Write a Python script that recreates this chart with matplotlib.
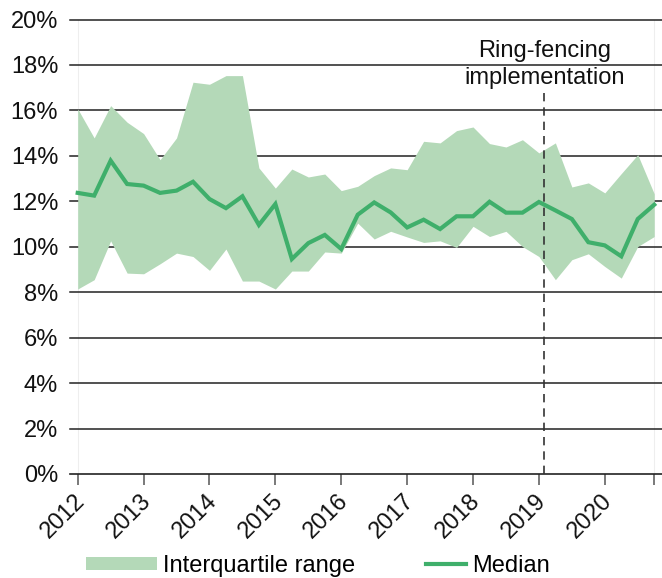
import matplotlib
matplotlib.use("Agg")
import matplotlib.pyplot as plt
import matplotlib.transforms as mtransforms
from matplotlib.patches import Patch
from matplotlib.lines import Line2D
import pandas as pd

# = = = = = = = = = = = = = = = = = = = = = = #
#                    Data                     #
# = = = = = = = = = = = = = = = = = = = = = = #

# Quarterly observations, 2012Q1 to 2020Q4
quarters = pd.period_range("2012Q1", "2020Q4", freq="Q")

# Upper quartile (%)
upper_q = [16.07, 14.79, 16.21, 15.48,
           14.98, 13.83, 14.79, 17.24,
           17.15, 17.53, 17.53, 13.47,
           12.58, 13.42, 13.07, 13.20,
           12.47, 12.66, 13.13, 13.47,
           13.39, 14.64, 14.57, 15.11,
           15.27, 14.54, 14.39, 14.71,
           14.13, 14.57, 12.63, 12.81,
           12.37, 13.22, 14.05, 12.33]

# Median (%)
median = [12.37, 12.25, 13.79, 12.76,
          12.69, 12.37, 12.47, 12.86,
          12.10, 11.70, 12.22, 10.96,
          11.88, 9.46, 10.16, 10.52,
          9.90, 11.41, 11.95, 11.51,
          10.85, 11.19, 10.78, 11.34,
          11.34, 11.98, 11.50, 11.50,
          11.97, 11.60, 11.22, 10.20,
          10.06, 9.58, 11.22, 11.85]

# Lower quartile (%)
lower_q = [8.14, 8.55, 10.26, 8.84,
           8.81, 9.25, 9.72, 9.57,
           8.96, 9.90, 8.49, 8.49,
           8.14, 8.93, 8.93, 9.77,
           9.72, 11.04, 10.34, 10.68,
           10.43, 10.19, 10.26, 9.97,
           10.90, 10.45, 10.68, 10.01,
           9.57, 8.55, 9.43, 9.69,
           9.13, 8.62, 10.01, 10.45]

# Ring-fencing implementation date (decimal year)
ring_fence_x = 2019.08
ring_fence_label = "Ring-fencing\nimplementation"

years = [2012, 2013, 2014, 2015, 2016, 2017, 2018, 2019, 2020]
y_ticks = [0, 2, 4, 6, 8, 10, 12, 14, 16, 18, 20]

x = [q.year + (q.quarter - 1) / 4 for q in quarters]

# = = = = = = = = = = = = = = = = = = = = = = #
#                   Plotting                  #
# = = = = = = = = = = = = = = = = = = = = = = #
plt.rcParams["font.family"] = ["Liberation Sans", "DejaVu Sans"]
fill_color = "#b4d9b8"
line_color = "#3faf6b"
dark = "#222222"

fig = plt.figure(figsize=(6.62, 5.78), dpi=100)
ax = fig.add_axes([70 / 662, 104 / 578, 592 / 662, 454.5 / 578])

# Horizontal gridlines behind the band
for yt in y_ticks[1:]:
    ax.axhline(yt, color=dark, lw=1.1, zorder=1, clip_on=False)

# faint edge markers at the ends of the data
ax.axvline(x[0], color="#eeeeee", lw=0.8, zorder=0.5)
ax.axvline(x[-1], color="#eeeeee", lw=0.8, zorder=0.5)

ax.fill_between(x, lower_q, upper_q, color=fill_color, lw=0, zorder=2)
ax.plot(x, median, color=line_color, lw=3.0, zorder=4, solid_joinstyle="miter")

# Ring-fencing marker
ax.plot([ring_fence_x, ring_fence_x], [0, 16.9], color="#333333", lw=1.2,
        linestyle=(0, (5, 3.6)), zorder=5)
ax.text(ring_fence_x, 17.14, ring_fence_label, ha="center", va="baseline",
        fontsize=17, linespacing=1.3, color="#111111", zorder=6)

ax.set_xlim(2011.883, 2020.868)
ax.set_ylim(0, 20)

for side in ["top", "right", "left"]:
    ax.spines[side].set_visible(False)
ax.spines["bottom"].set_color(dark)
ax.spines["bottom"].set_linewidth(1.2)

ax.set_yticks(y_ticks)
ax.set_yticklabels([f"{v}%" for v in y_ticks])
ax.tick_params(axis="y", length=0, pad=8.5, labelsize=17, labelcolor="#111111")

ax.set_xticks(years + [x[-1]])
ax.set_xticklabels([str(yr) for yr in years] + [""])
ax.tick_params(axis="x", length=8, width=1.1, color="#555555", pad=9,
               labelsize=17, labelcolor="#111111")
shift = mtransforms.ScaledTranslation(4 / 100, 0, fig.dpi_scale_trans)
for lbl in ax.get_xticklabels():
    lbl.set_rotation(45)
    lbl.set_ha("right")
    lbl.set_va("center")
    lbl.set_rotation_mode("anchor")
    lbl.set_transform(lbl.get_transform() + shift)

# Legends (two, so each handle keeps its own length)
leg1 = fig.legend(handles=[Patch(facecolor=fill_color, edgecolor="none")],
                  labels=["Interquartile range"], loc="center left",
                  bbox_to_anchor=(86 / 662, 12 / 578), frameon=False,
                  fontsize=17, handlelength=3.0, handleheight=0.45,
                  handletextpad=0.25, borderpad=0, borderaxespad=0)
leg2 = fig.legend(handles=[Line2D([], [], color=line_color, lw=3.0)],
                  labels=["Median"], loc="center left",
                  bbox_to_anchor=(426 / 662, 12 / 578), frameon=False,
                  fontsize=17, handlelength=1.7,
                  handletextpad=0.25, borderpad=0, borderaxespad=0)

fig.savefig("out.png", dpi=100)
